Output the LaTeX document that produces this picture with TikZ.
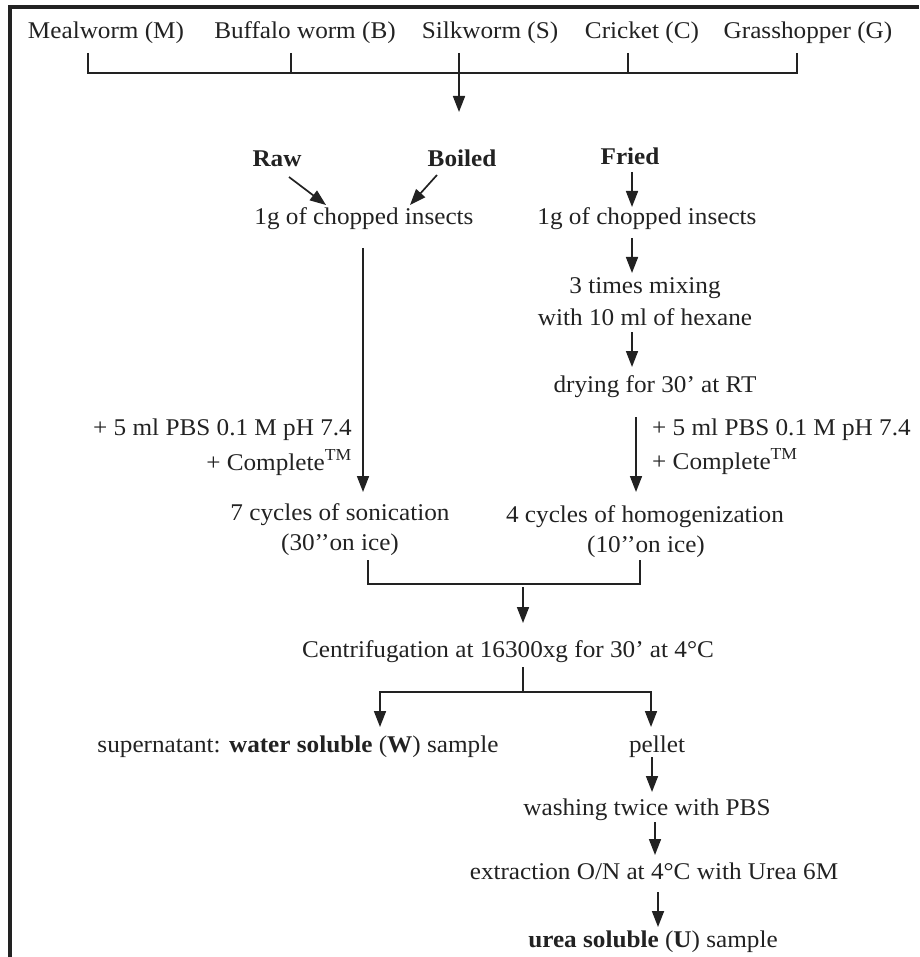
\documentclass[tikz,border=0pt]{standalone}
\usepackage{fontspec}
\setmainfont{Liberation Serif}[FakeStretch=1.05]
\usetikzlibrary{arrows.meta}
\definecolor{ink}{HTML}{222222}
\begin{document}
\begin{tikzpicture}[x=1pt,y=-1pt,
  txt/.style={inner sep=0pt,anchor=base,text=ink,font=\fontsize{24pt}{28pt}\selectfont},
  btxt/.style={txt,font=\fontsize{24pt}{28pt}\selectfont\bfseries},
  arr/.style={draw=ink,line width=1.7pt,-{Triangle[length=16pt,width=12pt]}},
  ln/.style={draw=ink,line width=1.3pt},
  frame/.style={draw=ink,line width=3.5pt}]
\useasboundingbox (0,0) rectangle (919,957);
% frame
\coordinate (f1) at (10,957);
\coordinate (f2) at (10,7);
\coordinate (f3) at (919,7);
\draw[frame] (f1) -- (f2) -- (f3);
% top labels
\node[txt] (m) at (106,39) {Mealworm (M)};
\node[txt] (b) at (305,39) {Buffalo worm (B)};
\node[txt] (s) at (490,39) {Silkworm (S)};
\node[txt] (c) at (642,39) {Cricket (C)};
\node[txt] (g) at (808,39) {Grasshopper (G)};
\coordinate (tm) at (88,53);  \coordinate (bm) at (88,73);
\coordinate (tb) at (291,53); \coordinate (bb) at (291,73);
\coordinate (tc) at (628,53); \coordinate (bc) at (628,73);
\coordinate (tg) at (797,53); \coordinate (bg) at (797,73);
\coordinate (ts) at (459,53); \coordinate (as) at (459,112);
\draw[ln] (tm) -- (bm) -- (bg) -- (tg);
\draw[ln] (tb) -- (bb);
\draw[ln] (tc) -- (bc);
\draw[arr] (ts) -- (as);
% preparation
\node[btxt] (raw) at (277,167) {Raw};
\node[btxt] (boiled) at (462,167) {Boiled};
\node[btxt] (fried) at (630,165) {Fried};
\node[txt] (chop1) at (364,225) {1g of chopped insects};
\node[txt] (chop2) at (647,225) {1g of chopped insects};
\coordinate (r1) at (289,177); \coordinate (r2) at (326,205);
\coordinate (b1) at (437,175); \coordinate (b2) at (410,205);
\coordinate (fr1) at (632,172); \coordinate (fr2) at (632,207);
\draw[arr] (r1) -- (r2);
\draw[arr] (b1) -- (b2);
\draw[arr] (fr1) -- (fr2);
% right branch
\node[txt] (mix1) at (645,294) {3 times mixing};
\node[txt] (mix2) at (645,325) {with 10 ml of hexane};
\node[txt] (dry) at (655,392) {drying for 30’ at RT};
\coordinate (c21) at (632,238); \coordinate (c22) at (632,273);
\draw[arr] (c21) -- (c22);
\coordinate (h1) at (632,332); \coordinate (h2) at (632,367);
\draw[arr] (h1) -- (h2);
\coordinate (d1) at (636,417); \coordinate (d2) at (636,492);
\draw[arr] (d1) -- (d2);
\node[txt,anchor=base west] (pbsr) at (652,435) {+ 5 ml PBS 0.1 M pH 7.4};
\node[txt,anchor=base west] (compr) at (652,469) {+ Complete\textsuperscript{TM}};
% left branch
\coordinate (l1) at (363,248); \coordinate (l2) at (363,492);
\draw[arr] (l1) -- (l2);
\node[txt,anchor=base east] (pbsl) at (352,435) {+ 5 ml PBS 0.1 M pH 7.4};
\node[txt,anchor=base east] (compl) at (352,470) {+ Complete\textsuperscript{TM}};
\node[txt] (son1) at (340,520) {7 cycles of sonication};
\node[txt] (son2) at (340,550) {(30’’on ice)};
\node[txt] (hom1) at (645,522) {4 cycles of homogenization};
\node[txt] (hom2) at (646,552) {(10’’on ice)};
% merge
\coordinate (j1) at (368,560); \coordinate (j2) at (368,584);
\coordinate (j3) at (640,584); \coordinate (j4) at (640,560);
\draw[ln] (j1) -- (j2) -- (j3) -- (j4);
\coordinate (a1) at (523,587); \coordinate (a2) at (523,623);
\draw[arr] (a1) -- (a2);
\node[txt] (cent) at (508,657) {Centrifugation at 16300xg for 30’ at 4°C};
\coordinate (k1) at (523,667); \coordinate (k2) at (523,692);
\coordinate (k3) at (380,692); \coordinate (k4) at (380,727);
\coordinate (k5) at (651,692); \coordinate (k6) at (651,727);
\draw[ln] (k1) -- (k2);
\draw[arr] (k2) -- (k3) -- (k4);
\draw[arr] (k2) -- (k5) -- (k6);
\node[txt] (sup) at (298,752) {supernatant: \textbf{water soluble} (\textbf{W}) sample};
\node[txt] (pel) at (657,752) {pellet};
\coordinate (p1) at (652,757); \coordinate (p2) at (652,792);
\draw[arr] (p1) -- (p2);
\node[txt] (wash) at (647,815) {washing twice with PBS};
\coordinate (w1) at (655,822); \coordinate (w2) at (655,855);
\draw[arr] (w1) -- (w2);
\node[txt] (ext) at (654,879) {extraction O/N at 4°C with Urea 6M};
\coordinate (e1) at (658,892); \coordinate (e2) at (658,927);
\draw[arr] (e1) -- (e2);
\node[txt] (urea) at (653,947) {\textbf{urea soluble} (\textbf{U}) sample};
\end{tikzpicture}
\end{document}
